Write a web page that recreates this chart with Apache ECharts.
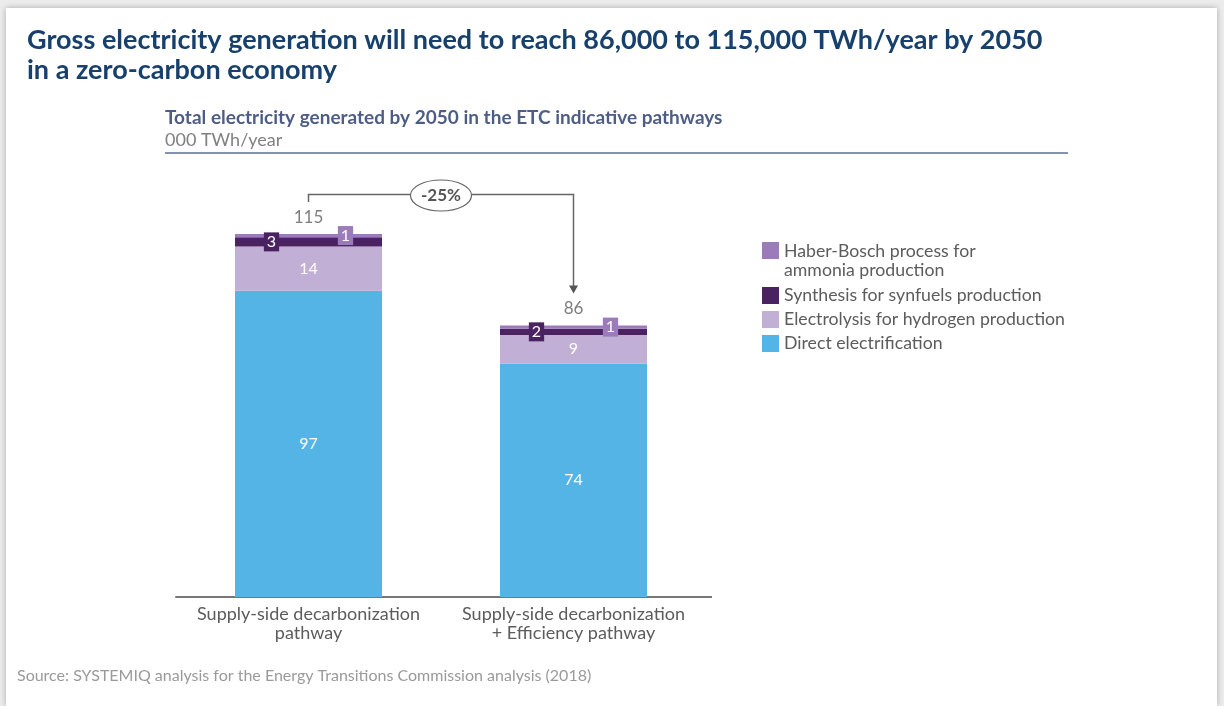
<!DOCTYPE html>
<html><head><meta charset="utf-8">
<script src="https://cdn.jsdelivr.net/npm/echarts@6/dist/echarts.min.js"></script>
<style>
html,body{margin:0;padding:0;width:1224px;height:706px;overflow:hidden;background:#ececec;}
#card{position:absolute;left:6px;top:8px;width:1211px;height:698px;background:#fff;box-shadow:0 0 6px rgba(0,0,0,0.28);}
#chart{position:absolute;left:0;top:0;width:1224px;height:706px;}
</style></head><body><div id="card"></div><div id="chart"></div>
<script>
// ---- data ----
const categories = ['Supply-side decarbonization\npathway', 'Supply-side decarbonization\n+ Efficiency pathway'];
const directElectrification = [97, 74];
const electrolysisHydrogen = [14, 9];
const synthesisSynfuels = [3, 2];
const haberBoschAmmonia = [1, 1];
const totals = [115, 86];
const changeLabel = '-25%';
const seriesNames = ['Haber-Bosch process for ammonia production', 'Synthesis for synfuels production', 'Electrolysis for hydrogen production', 'Direct electrification'];

// ---- styles ----
const FONT = 'Lato, "Noto Sans", sans-serif';
const C_DIRECT = '#54B4E6', C_ELEC = '#C2AFD6', C_SYN = '#4A2262', C_HB = '#9B7BB9';
const TXT = '#5c5c5c';

const chart = echarts.init(document.getElementById('chart'), null, {renderer: 'canvas'});

function boxLabel(color, dx) {
  return {show: true, position: 'inside', offset: [dx, 0], color: '#fff', fontFamily: FONT, fontSize: 16,
    backgroundColor: color, padding: [2, 3, 1, 3], lineHeight: 16};
}

const option = {
  animation: false,
  textStyle: {fontFamily: FONT},
  title: [
    {text: 'Gross electricity generation will need to reach 86,000 to 115,000 TWh/year by 2050\nin a zero-carbon economy',
      left: 22, top: 20, textStyle: {fontFamily: FONT, fontWeight: 'bold', fontSize: 27, lineHeight: 30, color: '#17406D'}},
    {text: 'Total electricity generated by 2050 in the ETC indicative pathways', left: 160, top: 103,
      textStyle: {fontFamily: FONT, fontWeight: 'bold', fontSize: 19, color: '#4D5D85'}},
    {text: '000 TWh/year', left: 160, top: 126, textStyle: {fontFamily: FONT, fontWeight: 'normal', fontSize: 18, color: '#808080'}},
    {text: 'Source: SYSTEMIQ analysis for the Energy Transitions Commission analysis (2018)', left: 12, top: 663,
      textStyle: {fontFamily: FONT, fontWeight: 'normal', fontSize: 16, color: '#9a9a9a'}}
  ],
  legend: [
    {data: [seriesNames[0]], orient: 'vertical', left: 757, top: 237, itemWidth: 17, itemHeight: 38,
      icon: 'path://M0,0L17,0L17,17L0,17Z M0,38L0,38',
      formatter: () => 'Haber-Bosch process for\nammonia production',
      textStyle: {fontFamily: FONT, fontSize: 17.7, lineHeight: 19, color: TXT}, selectedMode: false},
    {data: seriesNames.slice(1), orient: 'vertical', left: 757, top: 281, itemWidth: 17, itemHeight: 17, itemGap: 5,
      icon: 'rect',
      textStyle: {fontFamily: FONT, fontSize: 17.7, lineHeight: 19, color: TXT}, selectedMode: false}
  ],
  grid: {left: 176, width: 530, bottom: 109, top: 218.2, containLabel: false},
  xAxis: {type: 'category', data: categories,
    axisLine: {show: true, lineStyle: {color: '#777', width: 2}}, axisTick: {show: false},
    axisLabel: {fontFamily: FONT, fontSize: 18, lineHeight: 19, color: TXT, margin: 8, interval: 0}},
  yAxis: {type: 'value', min: 0, max: 120, show: false, splitLine: {show: false}},
  series: [
    {name: seriesNames[3], type: 'bar', stack: 't', data: directElectrification, barWidth: 147, itemStyle: {color: C_DIRECT},
      label: {show: true, position: 'inside', color: '#fff', fontFamily: FONT, fontSize: 16}},
    {name: seriesNames[2], type: 'bar', stack: 't', data: electrolysisHydrogen, itemStyle: {color: C_ELEC},
      label: {show: true, position: 'inside', color: '#fff', fontFamily: FONT, fontSize: 16}},
    {name: seriesNames[1], type: 'bar', stack: 't', data: synthesisSynfuels, itemStyle: {color: C_SYN},
      label: boxLabel(C_SYN, -37)},
    {name: seriesNames[0], type: 'bar', stack: 't', data: haberBoschAmmonia, itemStyle: {color: C_HB},
      label: boxLabel(C_HB, 37)},
    {name: 'total', type: 'scatter', data: totals, symbolSize: 0.1, silent: true, itemStyle: {color: 'transparent'},
      label: {show: true, position: 'top', distance: 8, color: TXT, fontFamily: FONT, fontSize: 17}}
  ]
};
chart.setOption(option);

// ---- annotation bracket computed from the axes ----
const x1 = chart.convertToPixel({xAxisIndex: 0}, 0);
const x2 = chart.convertToPixel({xAxisIndex: 0}, 1);
const y1 = chart.convertToPixel({yAxisIndex: 0}, totals[0]);
const y2 = chart.convertToPixel({yAxisIndex: 0}, totals[1]);
const y0 = chart.convertToPixel({yAxisIndex: 0}, 0);
const yTop = y1 - 39.5;
const midX = (x1 + x2) / 2;
const lineStyle = {stroke: '#666', lineWidth: 1.5, fill: null};
chart.setOption({
  graphic: [
    {type: 'polyline', shape: {points: [[x1, y1 - 32], [x1, yTop], [x2, yTop], [x2, y2 - 38]]}, style: lineStyle, z: 10},
    {type: 'polygon', shape: {points: [[x2 - 4.5, y2 - 40], [x2 + 4.5, y2 - 40], [x2, y2 - 32]]}, style: {fill: '#555'}, z: 10},
    {type: 'ellipse', shape: {cx: midX, cy: yTop + 1, rx: 30.5, ry: 15.5}, style: {fill: '#fff', stroke: '#666', lineWidth: 1.2}, z: 11},
    {type: 'text', x: midX, y: yTop + 1, style: {text: changeLabel, fill: '#555', font: 'bold 17px ' + FONT, align: 'center', verticalAlign: 'middle'}, z: 12},
    {type: 'line', shape: {x1: 165, y1: 153, x2: 1068, y2: 153}, style: {stroke: '#8592AE', lineWidth: 2}},
    {type: 'line', shape: {x1: 706, y1: y0, x2: 712, y2: y0}, style: {stroke: '#777', lineWidth: 2}}
  ]
});
</script></body></html>
